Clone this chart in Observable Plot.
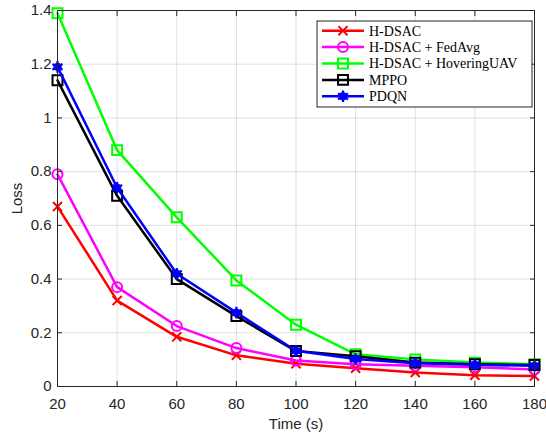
<!DOCTYPE html>
<html>
<head>
<meta charset="utf-8">
<script src="https://cdn.jsdelivr.net/npm/d3@7"></script>
<script src="https://cdn.jsdelivr.net/npm/@observablehq/plot@0.6"></script>
<style>
  html, body { margin: 0; padding: 0; background: #fff; }
  #chart { position: relative; width: 546px; height: 438px; }
  #chart svg text { font-size: 15px; }
  #chart svg g.legend text { font-size: 14px; }
</style>
</head>
<body>
<div id="chart"></div>
<script>
const times = [20, 40, 60, 80, 100, 120, 140, 160, 180];
const hdsac = [0.67, 0.32, 0.185, 0.116, 0.085, 0.068, 0.052, 0.042, 0.039];
const fedavg = [0.79, 0.37, 0.225, 0.143, 0.097, 0.083, 0.077, 0.072, 0.063];
const hovering = [1.39, 0.88, 0.63, 0.395, 0.23, 0.12, 0.101, 0.089, 0.083];
const mppo = [1.14, 0.71, 0.40, 0.262, 0.132, 0.113, 0.089, 0.083, 0.080];
const pdqn = [1.19, 0.74, 0.42, 0.275, 0.133, 0.102, 0.087, 0.081, 0.077];
const seriesNames = ["H-DSAC", "H-DSAC + FedAvg", "H-DSAC + HoveringUAV", "MPPO", "PDQN"];
const seriesColors = ["#ff0000", "#ff00ff", "#00ff00", "#000000", "#0000ff"];
const xTicks = [20, 40, 60, 80, 100, 120, 140, 160, 180];
const yTicks = [0, 0.2, 0.4, 0.6, 0.8, 1, 1.2, 1.4];

const seriesValues = [hdsac, fedavg, hovering, mppo, pdqn];
const table = seriesNames.map((name, i) => times.map((t, j) => ({series: name, time: t, loss: seriesValues[i][j]})));

const axisColor = "#262626";
const markerSpec = [
  {symbol: "times", r: 4.2, fill: "none", sw: 2},
  {symbol: "circle", r: 5, fill: "none", sw: 2},
  {symbol: "square", r: 5.6, fill: "none", sw: 2},
  {symbol: "square", r: 5.6, fill: "none", sw: 2},
  {symbol: "asterisk", r: 5.5, fill: "none", sw: 2.2}
];

const marks = [
  Plot.gridX(xTicks, {stroke: "#000", strokeOpacity: 0.12, strokeWidth: 1}),
  Plot.gridY(yTicks, {stroke: "#000", strokeOpacity: 0.12, strokeWidth: 1})
];
table.forEach((rows, i) => {
  const c = seriesColors[i];
  const m = markerSpec[i];
  marks.push(Plot.line(rows, {x: "time", y: "loss", stroke: c, strokeWidth: 2.5}));
  marks.push(Plot.dot(rows, {x: "time", y: "loss", symbol: () => m.symbol, r: m.r, stroke: c, fill: m.fill, strokeWidth: m.sw}));
  if (i === 4) marks.push(Plot.dot(rows, {x: "time", y: "loss", r: 4.2, fill: c, stroke: "none"}));
});
marks.push(
  Plot.frame({stroke: axisColor, strokeWidth: 1}),
  Plot.axisX(xTicks, {anchor: "bottom", tickSize: 0, tickPadding: 12, fill: axisColor, fontSize: 15, label: null}),
  Plot.axisX({anchor: "bottom", ticks: [], tickSize: 0, label: "Time (s)", labelAnchor: "center", labelOffset: 42, labelArrow: "none", fill: axisColor, fontSize: 15}),
  Plot.axisX(xTicks, {anchor: "bottom", tickSize: -5, text: null, label: null, stroke: axisColor}),
  Plot.axisX(xTicks, {anchor: "top", tickSize: -5, text: null, label: null, stroke: axisColor}),
  Plot.axisY(yTicks, {anchor: "left", tickSize: 0, tickPadding: 6, fill: axisColor, fontSize: 15, tickFormat: d => String(d), label: "Loss", labelAnchor: "center", labelOffset: 46, labelArrow: "none"}),
  Plot.axisY(yTicks, {anchor: "left", tickSize: -5, text: null, label: null, stroke: axisColor}),
  Plot.axisY(yTicks, {anchor: "right", tickSize: -5, text: null, label: null, stroke: axisColor})
);

const chart = Plot.plot({
  width: 546,
  height: 438,
  marginLeft: 57,
  marginRight: 12,
  marginTop: 10,
  marginBottom: 52,
  style: {fontFamily: "'Liberation Sans', Arial, sans-serif", fontSize: "15px", color: axisColor, background: "#fff"},
  x: {domain: [20, 180]},
  y: {domain: [0, 1.4]},
  marks
});
document.getElementById("chart").appendChild(chart);

// Legend box (MATLAB-style, inside the axes, north-east)
const svg = d3.select(chart.tagName.toLowerCase() === "svg" ? chart : chart.querySelector("svg"));
const lg = svg.append("g").attr("class", "legend").attr("font-family", "'Liberation Serif', 'DejaVu Serif', serif").attr("font-size", 14).attr("text-anchor", "start");
const boxX = 317, boxY = 21, boxW = 215, boxH = 86, rowY0 = 30.7, rowStep = 16.4;
lg.append("rect").attr("x", boxX).attr("y", boxY).attr("width", boxW).attr("height", boxH)
  .attr("fill", "#fff").attr("stroke", axisColor).attr("stroke-width", 1);
seriesNames.forEach((name, i) => {
  const y = rowY0 + i * rowStep;
  const c = seriesColors[i];
  const m = markerSpec[i];
  lg.append("line").attr("x1", 322).attr("x2", 364).attr("y1", y).attr("y2", y).attr("stroke", c).attr("stroke-width", 2.5);
  const sym = {times: d3.symbolTimes, circle: d3.symbolCircle, square: d3.symbolSquare, asterisk: d3.symbolAsterisk}[m.symbol];
  lg.append("path").attr("d", d3.symbol(sym, Math.PI * m.r * m.r)())
    .attr("transform", `translate(343,${y})`).attr("fill", "none").attr("stroke", c).attr("stroke-width", m.sw);
  if (i === 4) lg.append("circle").attr("cx", 343).attr("cy", y).attr("r", 4.2).attr("fill", c);
  lg.append("text").attr("x", 369).attr("y", y).attr("dy", "0.35em").attr("fill", "#000").attr("text-anchor", "start").text(name);
});
</script>
</body>
</html>
